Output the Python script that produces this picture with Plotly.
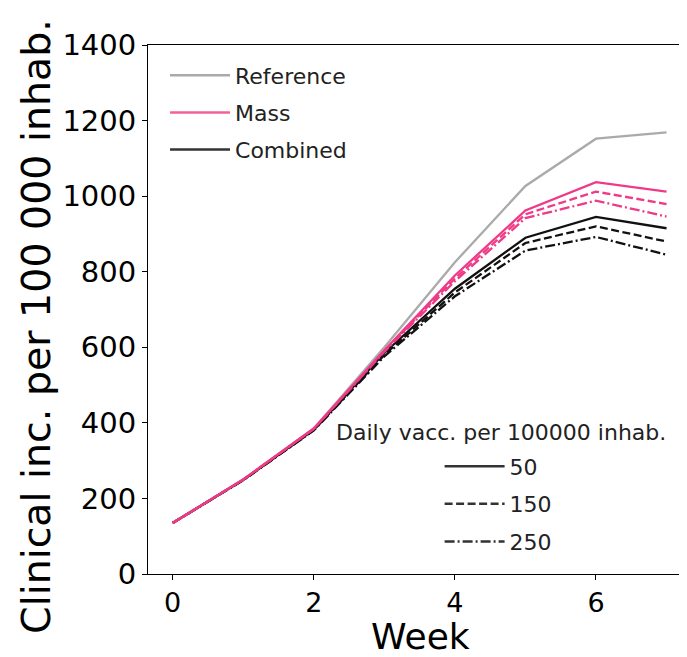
import plotly.graph_objects as go

weeks = [0, 1, 2, 3, 4, 5, 6, 7]
reference = [135, 250, 385, 600, 825, 1027, 1152, 1169]
mass_50 = [135, 250, 385, 592, 790, 962, 1037, 1012]
mass_150 = [135, 250, 384, 590, 782, 952, 1012, 979]
mass_250 = [135, 250, 384, 588, 775, 942, 988, 946]
comb_50 = [135, 249, 382, 585, 755, 890, 945, 915]
comb_150 = [135, 249, 381, 580, 745, 876, 920, 880]
comb_250 = [135, 248, 380, 576, 735, 856, 892, 845]

strategy_labels = ["Reference", "Mass", "Combined"]
vacc_labels = ["50", "150", "250"]
legend2_title = "Daily vacc. per 100000 inhab."
x_title = "Week"
y_title = "Clinical inc. per 100 000 inhab."
x_ticks = [0, 2, 4, 6]
y_ticks = [0, 200, 400, 600, 800, 1000, 1200, 1400]

GREY = "#aaaaaa"
PINK = "#ef3a88"
BLACK = "#111111"
DASHES = ["solid", "8px,3.5px", "10px,3px,2px,3px"]
FONT = "DejaVu Sans"

fig = go.Figure()

fig.add_trace(go.Scatter(x=weeks, y=reference, mode="lines",
                         line=dict(color=GREY, width=2.3), showlegend=False))
for ys, d in zip([comb_50, comb_150, comb_250], DASHES):
    fig.add_trace(go.Scatter(x=weeks, y=ys, mode="lines",
                             line=dict(color=BLACK, width=2.3, dash=d), showlegend=False))
for ys, d in zip([mass_50, mass_150, mass_250], DASHES):
    fig.add_trace(go.Scatter(x=weeks, y=ys, mode="lines",
                             line=dict(color=PINK, width=2.3, dash=d), showlegend=False))

# legend 1: strategies
for name, col, g in zip(strategy_labels, [GREY, "#f2609c", "#333333"], ["a", "b", "c"]):
    fig.add_trace(go.Scatter(x=[None], y=[None], mode="lines", name=name,
                             line=dict(color=col, width=2.5), legend="legend",
                             legendgroup=g))
# legend 2: vaccination rates
for name, d, g in zip(vacc_labels, DASHES, ["d", "e", "f"]):
    fig.add_trace(go.Scatter(x=[None], y=[None], mode="lines", name=name,
                             line=dict(color="#333333", width=2.5, dash=d), legend="legend2",
                             legendgroup=g))

fig.update_layout(
    width=679, height=649,
    margin=dict(l=140, r=0, t=37, b=82.5, autoexpand=False),
    plot_bgcolor="white", paper_bgcolor="white",
    font=dict(family=FONT, color="black"),
    legend=dict(x=0.0316, y=0.982, xanchor="left", yanchor="top",
                font=dict(size=22, family=FONT, color="#222"), bgcolor="rgba(0,0,0,0)",
                itemwidth=60, tracegroupgap=5.5, traceorder="grouped"),
    legend2=dict(x=0.541, y=0.243, xanchor="left", yanchor="top",
                 font=dict(size=22, family=FONT, color="#222"), bgcolor="rgba(0,0,0,0)",
                 itemwidth=60, tracegroupgap=6, traceorder="grouped"),
    annotations=[
        dict(text=legend2_title, x=0.655, y=0.268, xref="paper", yref="paper",
             xanchor="center", yanchor="middle", showarrow=False,
             font=dict(size=22, family=FONT, color="#222")),
        dict(text=y_title, x=-0.2092, y=0.4676, xref="paper", yref="paper",
             xanchor="center", yanchor="middle", showarrow=False, textangle=-90,
             font=dict(size=39.5, family=FONT, color="black")),
        dict(text=x_title, x=0.505, y=-0.1181, xref="paper", yref="paper",
             xanchor="center", yanchor="middle", showarrow=False,
             font=dict(size=36, family=FONT, color="black")),
    ],
)

fig.update_xaxes(range=[-0.35, 7.29], tickvals=x_ticks, ticks="outside", ticklen=5,
                 tickwidth=1, tickcolor="black", showline=True, linecolor="black",
                 linewidth=1, mirror=True, showgrid=False, zeroline=False, automargin=False,
                 tickfont=dict(size=27, family=FONT, color="black"))
fig.update_yaxes(range=[0, 1400], tickvals=y_ticks, ticks="outside", ticklen=5,
                 tickwidth=1, tickcolor="black", showline=True, linecolor="black",
                 linewidth=1, showgrid=False, zeroline=False, automargin=False,
                 tickfont=dict(size=29, family=FONT, color="black"))

fig.write_html("out.html")
